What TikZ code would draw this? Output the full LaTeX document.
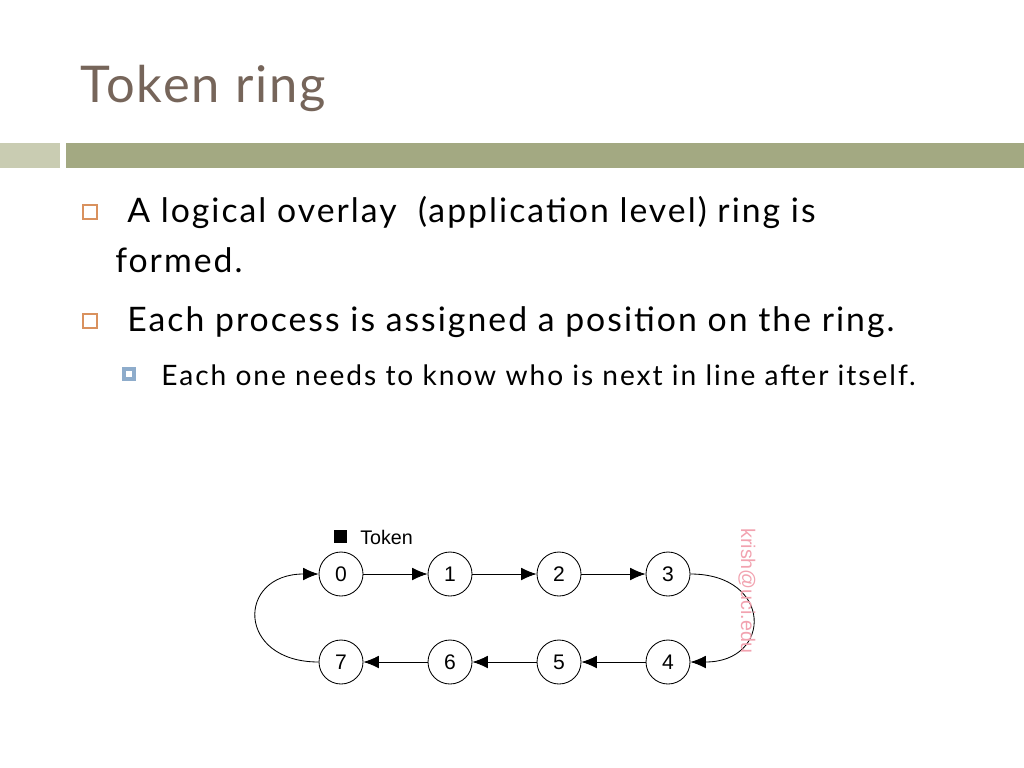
\documentclass[tikz,border=0pt]{standalone}
\usepackage{fontspec}
\setmainfont{Lato}
\newfontfamily\figfont{Liberation Sans}
\newfontfamily\wideface[LetterSpace=6]{Lato}
\newfontfamily\subface[LetterSpace=7]{Lato}
\newfontfamily\titleface[LetterSpace=4]{Lato}
\usetikzlibrary{arrows.meta,positioning}
\definecolor{titlecol}{HTML}{76655A}
\definecolor{barcol}{HTML}{A3A982}
\definecolor{barlight}{HTML}{C9CCB2}
\definecolor{bulletcol}{HTML}{D9915E}
\definecolor{subcol}{HTML}{8EACCB}
\definecolor{markcol}{HTML}{F2A3B0}
\newlength\pxu
\setlength\pxu{0.025cm}
\tikzset{
  proc/.style={circle, draw, semithick, minimum size=44\pxu, inner sep=0pt, font=\figfont\fontsize{15}{15}\selectfont},
  link/.style={semithick, -{Latex[length=11pt,width=9pt]}},
  bullettext/.style={anchor=base west, inner sep=0pt, font=\wideface\fontsize{24}{30}\selectfont},
  bulletbox/.style={draw=bulletcol, line width=1pt},
}
\begin{document}
\begin{tikzpicture}[x=0.025cm, y=-0.025cm]
    % Page frame
    \useasboundingbox (0,0) rectangle (1024,768);
    \fill[white] (0,0) rectangle (1024,768);

    % Title and bars
    \node[anchor=base west, inner sep=0pt, text=titlecol, font=\titleface\fontsize{36}{36}\selectfont] (title) at (80,103) {Token ring};
    \fill[barlight] (0,143) rectangle (60,168);
    \fill[barcol] (66,143) rectangle (1024,168);

    % Bullets
    \draw[bulletbox] (83,205) rectangle (97,219);
    \node[bullettext] (b1) at (127,222) {A logical overlay \ (application level) ring is};
    \node[bullettext] (b1b) at (115,272) {formed.};
    \draw[bulletbox] (83,314) rectangle (97,328);
    \node[bullettext] (b2) at (127,331) {Each process is assigned a position on the ring.};
    \fill[subcol] (122,367) rectangle (136,381);
    \fill[white] (126,371) rectangle (132,377);
    \node[bullettext, font=\subface\fontsize{20}{20}\selectfont] (b3) at (161,385) {Each one needs to know who is next in line after itself.};

    % Ring of processes
    \foreach \n/\x in {0/341,1/450,2/559,3/668} {
        \node[proc] (p\n) at (\x,574) {\n};
    }
    \foreach \n/\x in {7/341,6/450,5/559,4/668} {
        \node[proc] (p\n) at (\x,662) {\n};
    }
    \draw[link] (p0) -- (p1);
    \draw[link] (p1) -- (p2);
    \draw[link] (p2) -- (p3);
    \draw[link] (p4) -- (p5);
    \draw[link] (p5) -- (p6);
    \draw[link] (p6) -- (p7);
    \draw[link] (p3.east) to[out=0, in=0, looseness=2.4] (p4.east);
    \draw[link] (p7.west) to[out=180, in=180, looseness=2.4] (p0.west);

    % Token legend
    \fill (334,530) rectangle (347,543);
    \node[anchor=west, inner sep=0pt, font=\figfont\fontsize{14}{14}\selectfont] (token) at (360,537) {Token};

    % Watermark
    \node[rotate=-90, anchor=west, inner sep=0pt, text=markcol, font=\figfont\fontsize{14}{14}\selectfont] (mark) at (747,528) {krish@uci.edu};
\end{tikzpicture}
\end{document}
